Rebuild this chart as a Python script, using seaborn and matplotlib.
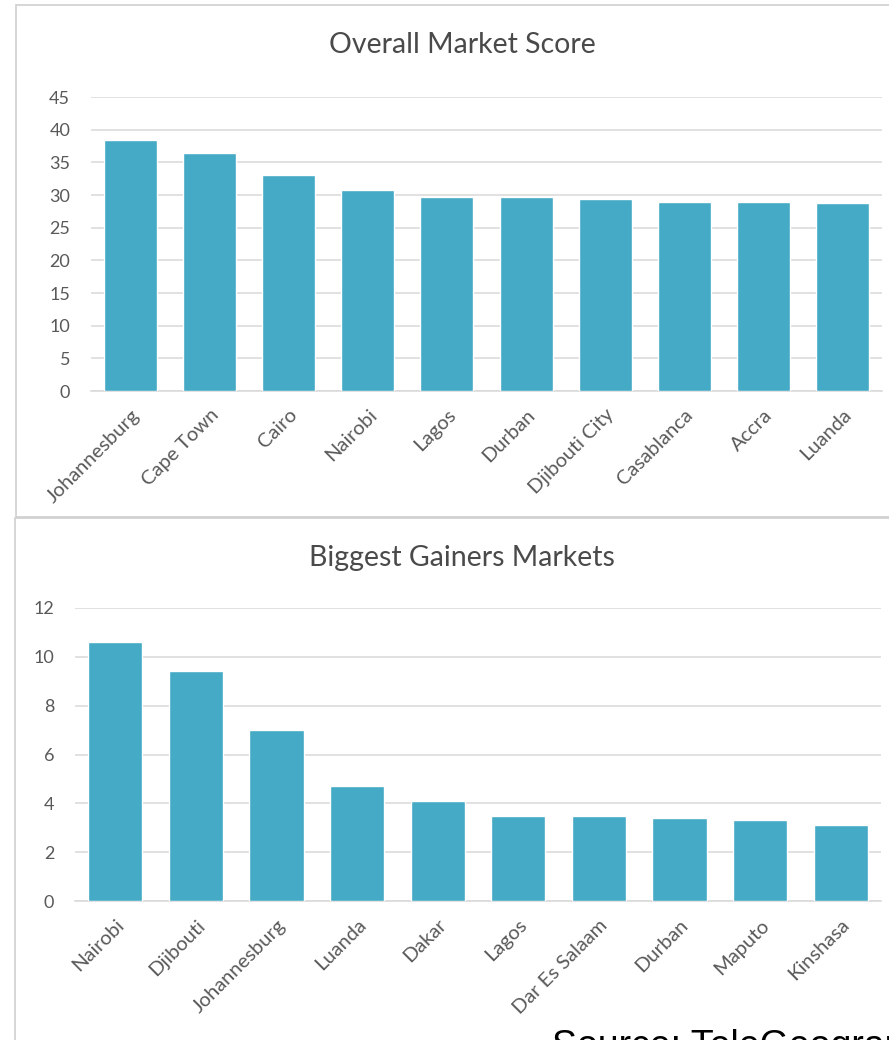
import matplotlib
matplotlib.use("Agg")
import matplotlib.pyplot as plt
from matplotlib.patches import Rectangle
import seaborn as sns
import pandas as pd

# Overall market score by city
overall_cities = ["Johannesburg", "Cape Town", "Cairo", "Nairobi", "Lagos",
                  "Durban", "Djibouti City", "Casablanca", "Accra", "Luanda"]
overall_scores = [38.4, 36.4, 33.0, 30.8, 29.7, 29.7, 29.4, 28.9, 28.9, 28.7]
overall_ticks = [0, 5, 10, 15, 20, 25, 30, 35, 40, 45]

# Biggest gainers by city
gainer_cities = ["Nairobi", "Djibouti", "Johannesburg", "Luanda", "Dakar",
                 "Lagos", "Dar Es Salaam", "Durban", "Maputo", "Kinshasa"]
gainer_values = [10.6, 9.4, 7.0, 4.7, 4.1, 3.5, 3.5, 3.4, 3.3, 3.1]
gainer_ticks = [0, 2, 4, 6, 8, 10, 12]

BAR = "#45AAC6"
GRID = "#D9D9D9"
TEXT = "#595959"
TITLE = "#4A4A4A"

sns.set_theme(style="white")
plt.rcParams["font.family"] = ["Lato", "DejaVu Sans"]

W, H = 889, 1040
fig = plt.figure(figsize=(W / 100, H / 100), dpi=100)
fig.patch.set_facecolor("white")


def frac_box(left, top, right, bottom):
    return [left / W, 1 - bottom / H, (right - left) / W, (bottom - top) / H]


# Panel frames
fig.patches.append(Rectangle((16 / W, 1 - 517 / H), (W + 10) / W, 512 / H,
                             transform=fig.transFigure, fill=False,
                             edgecolor="#CFCFCF", lw=1.2, zorder=0))
fig.patches.append(Rectangle((15 / W, -0.02), (W + 10) / W, 1 - 518 / H + 0.02,
                             transform=fig.transFigure, fill=False,
                             edgecolor="#CFCFCF", lw=1.2, zorder=0))


def draw_panel(rect, cats, vals, ticks, title, title_y):
    ax = fig.add_axes(rect)
    df = pd.DataFrame({"city": cats, "value": vals})
    sns.barplot(data=df, x="city", y="value", color=BAR, width=0.67,
                saturation=1, ax=ax, zorder=3)
    ax.set_ylim(ticks[0], ticks[-1])
    ax.set_yticks(ticks)
    ax.set_xlim(-0.5, len(cats) - 0.5)
    ax.yaxis.grid(True, color=GRID, lw=1.1, zorder=0)
    ax.xaxis.grid(False)
    for s in ["top", "right", "left"]:
        ax.spines[s].set_visible(False)
    ax.spines["bottom"].set_color(GRID)
    ax.spines["bottom"].set_linewidth(1.1)
    ax.set_xlabel("")
    ax.set_ylabel("")
    ax.tick_params(axis="y", length=0, pad=15, labelsize=13, labelcolor=TEXT)
    ax.tick_params(axis="x", length=0, pad=11, labelsize=14.5, labelcolor=TEXT)
    for lab in ax.get_xticklabels():
        lab.set_rotation(45)
        lab.set_ha("right")
        lab.set_va("top")
        lab.set_rotation_mode("anchor")
    fig.text(462 / W, 1 - title_y / H, title, ha="center", va="center",
             fontsize=20.5, color=TITLE)
    return ax


draw_panel(frac_box(91, 97, 882, 391), overall_cities, overall_scores,
           overall_ticks, "Overall Market Score", 45)
draw_panel(frac_box(75, 608, 881, 901), gainer_cities, gainer_values,
           gainer_ticks, "Biggest Gainers Markets", 558)

fig.text(552 / W, 1 - 1029 / H, "Source: TeleGeography", ha="left", va="top",
         fontsize=27, color="black", family=["Liberation Sans", "DejaVu Sans"])

fig.savefig("out.png", dpi=100, facecolor="white")
